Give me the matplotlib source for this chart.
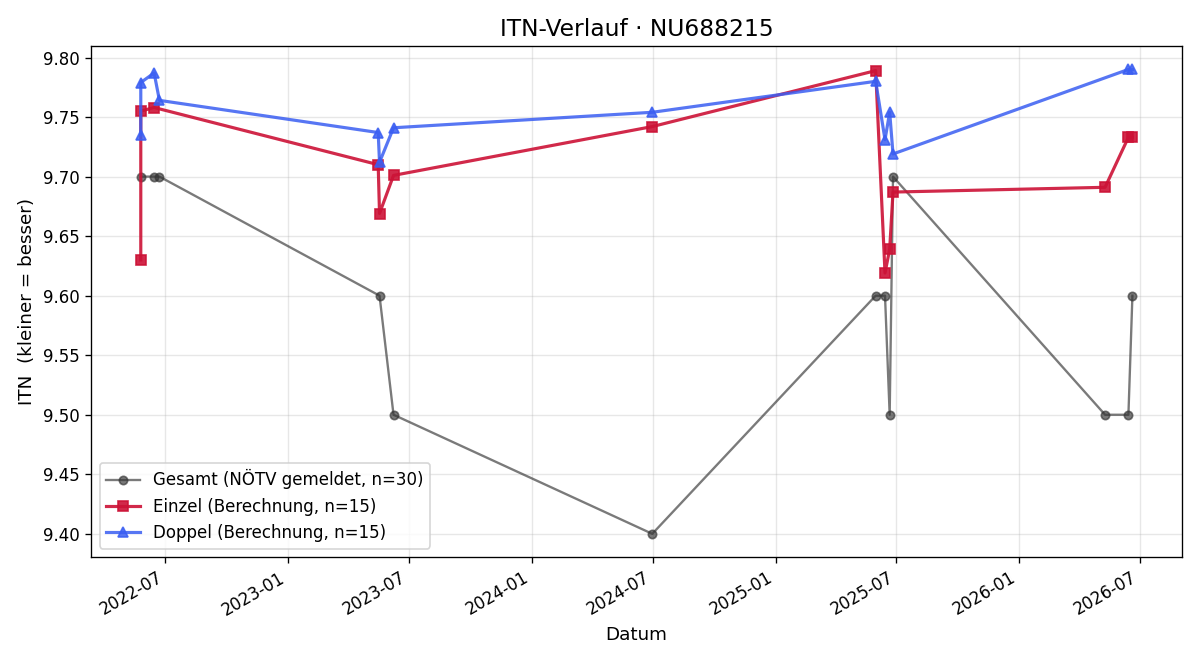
import matplotlib
matplotlib.use("Agg")
import matplotlib.pyplot as plt
import pandas as pd

# Gesamt (NÖTV gemeldet)
gesamt_dates = ["2022-05-25", "2022-06-14", "2022-06-22", "2023-05-18", "2023-06-08",
                "2024-06-30", "2025-05-31", "2025-06-14", "2025-06-21", "2025-06-26",
                "2026-05-10", "2026-06-14", "2026-06-20"]
gesamt_vals = [9.70, 9.70, 9.70, 9.60, 9.50, 9.40, 9.60, 9.60, 9.50, 9.70, 9.50, 9.50, 9.60]

# Einzel (Berechnung)
einzel_dates = ["2022-05-25", "2022-05-25", "2022-06-14", "2023-05-16", "2023-05-18",
                "2023-06-08", "2024-06-30", "2025-05-31", "2025-06-14", "2025-06-21",
                "2025-06-26", "2026-05-10", "2026-06-14", "2026-06-20"]
einzel_vals = [9.630, 9.755, 9.758, 9.710, 9.669, 9.701, 9.742, 9.789, 9.619, 9.639,
               9.687, 9.691, 9.733, 9.733]

# Doppel (Berechnung)
doppel_dates = ["2022-05-25", "2022-05-25", "2022-06-14", "2022-06-22", "2023-05-16",
                "2023-05-18", "2023-06-08", "2024-06-30", "2025-05-31", "2025-06-14",
                "2025-06-21", "2025-06-26", "2026-06-14", "2026-06-20"]
doppel_vals = [9.735, 9.779, 9.787, 9.764, 9.737, 9.712, 9.741, 9.754, 9.780, 9.731,
               9.754, 9.719, 9.790, 9.790]

fig, ax = plt.subplots(figsize=(10, 5.5), dpi=120)

ax.plot(pd.to_datetime(gesamt_dates), gesamt_vals, marker='o', markersize=5,
        color='#333333', alpha=0.65, linewidth=1.4,
        label='Gesamt (NÖTV gemeldet, n=30)')
ax.plot(pd.to_datetime(einzel_dates), einzel_vals, marker='s', markersize=6,
        color='#cc1236', alpha=0.9, linewidth=1.9,
        label='Einzel (Berechnung, n=15)')
ax.plot(pd.to_datetime(doppel_dates), doppel_vals, marker='^', markersize=6,
        color='#3a5ef2', alpha=0.85, linewidth=1.9,
        label='Doppel (Berechnung, n=15)')

ax.set_title('ITN-Verlauf · NU688215', fontsize=14)
ax.set_xlabel('Datum', fontsize=11)
ax.set_ylabel('ITN  (kleiner = besser)', fontsize=11)
ax.grid(True, alpha=0.3)
ax.legend(loc='lower left')
fig.autofmt_xdate()

fig.subplots_adjust(left=0.076, right=0.985, top=0.930, bottom=0.156)
fig.savefig('out.png')
